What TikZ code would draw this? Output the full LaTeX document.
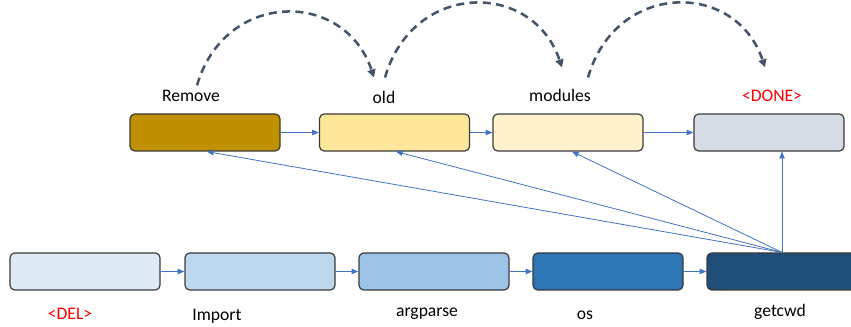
\documentclass[tikz,border=0pt]{standalone}
\usepackage{fontspec}
\setmainfont{Carlito}
\usetikzlibrary{arrows.meta}

\definecolor{boxline}{HTML}{3A3A3A}
\definecolor{linkblue}{HTML}{4472C4}
\definecolor{hopgray}{HTML}{44546A}
% top row (output tokens)
\definecolor{goldA}{HTML}{BF9000}
\definecolor{goldB}{HTML}{FFE699}
\definecolor{goldC}{HTML}{FFF2CC}
\definecolor{grayD}{HTML}{D6DCE5}
% bottom row (input tokens)
\definecolor{blueA}{HTML}{DEEBF7}
\definecolor{blueB}{HTML}{BDD7EE}
\definecolor{blueC}{HTML}{9DC3E6}
\definecolor{blueD}{HTML}{2E75B6}
\definecolor{blueE}{HTML}{1F4E79}

\begin{document}
\begin{tikzpicture}[x=0.75pt, y=0.75pt,
    box/.style={draw=boxline, line width=0.9pt, rounded corners=3.5pt,
        minimum width=112.5pt, minimum height=27.75pt, inner sep=0pt},
    lbl/.style={anchor=base, inner sep=0pt, font=\fontsize{13.2}{15}\selectfont},
    tok/.style={lbl, text=red},
    link/.style={-{Triangle[length=5pt,width=4pt]}, draw=linkblue, line width=0.6pt},
    hop/.style={-{Triangle[length=6pt,width=6pt]}, draw=hopgray, line width=1.9pt,
        dash pattern=on 6pt off 4pt}]
    \clip (0,0) rectangle (851,327);

    % top row
    \node[box, fill=goldA] (rem)  at (205,194.5) {};
    \node[box, fill=goldB] (old)  at (394.5,194.5) {};
    \node[box, fill=goldC] (mod)  at (568,194.5) {};
    \node[box, fill=grayD] (done) at (769,194.5) {};
    \node[lbl] (lrem)  at (191,225) {Remove};
    \node[lbl] (lold)  at (384,223) {old};
    \node[lbl] (lmod)  at (560,225) {modules};
    \node[tok] (ldone) at (772,225) {<DONE>};

    % bottom row
    \node[box, fill=blueA] (del) at (85,55.5) {};
    \node[box, fill=blueB] (imp) at (260,55.5) {};
    \node[box, fill=blueC] (arg) at (434,55.5) {};
    \node[box, fill=blueD] (os)  at (608,55.5) {};
    \node[box, fill=blueE] (cwd) at (782,55.5) {};
    \node[tok] (ldel) at (70,7) {<DEL>};
    \node[lbl] (limp) at (217,6) {Import};
    \node[lbl] (larg) at (427,10) {argparse};
    \node[lbl] (los)  at (585,7) {os};
    \node[lbl] (lcwd) at (780,10) {getcwd};

    % chains
    \draw[link] (rem) -- (old);
    \draw[link] (old) -- (mod);
    \draw[link] (mod) -- (done);
    \draw[link] (del) -- (imp);
    \draw[link] (imp) -- (arg);
    \draw[link] (arg) -- (os);
    \draw[link] (os) -- (cwd);

    % fan from the last input
    \draw[link] (cwd.north) -- ([xshift=1.5pt]rem.south);
    \draw[link] (cwd.north) -- ([xshift=1.1pt]old.south);
    \draw[link] (cwd.north) -- ([xshift=3pt]mod.south);
    \draw[link] (cwd.north) -- (cwd.north |- done.south);

    % dashed hops
    \draw[hop] ([shift={(6,5)}]lrem.north) .. controls +(28,96) and +(-29,88) .. ([shift={(-10,14)}]lold.north);
    \draw[hop] ([shift={(1,14)}]lold.north) .. controls +(28,97) and +(-29,87) .. ([shift={(2,22)}]lmod.north);
    \draw[hop] ([shift={(28,12)}]lmod.north) .. controls +(28,97) and +(-29,87) .. ([shift={(-7,23)}]ldone.north);
\end{tikzpicture}
\end{document}
